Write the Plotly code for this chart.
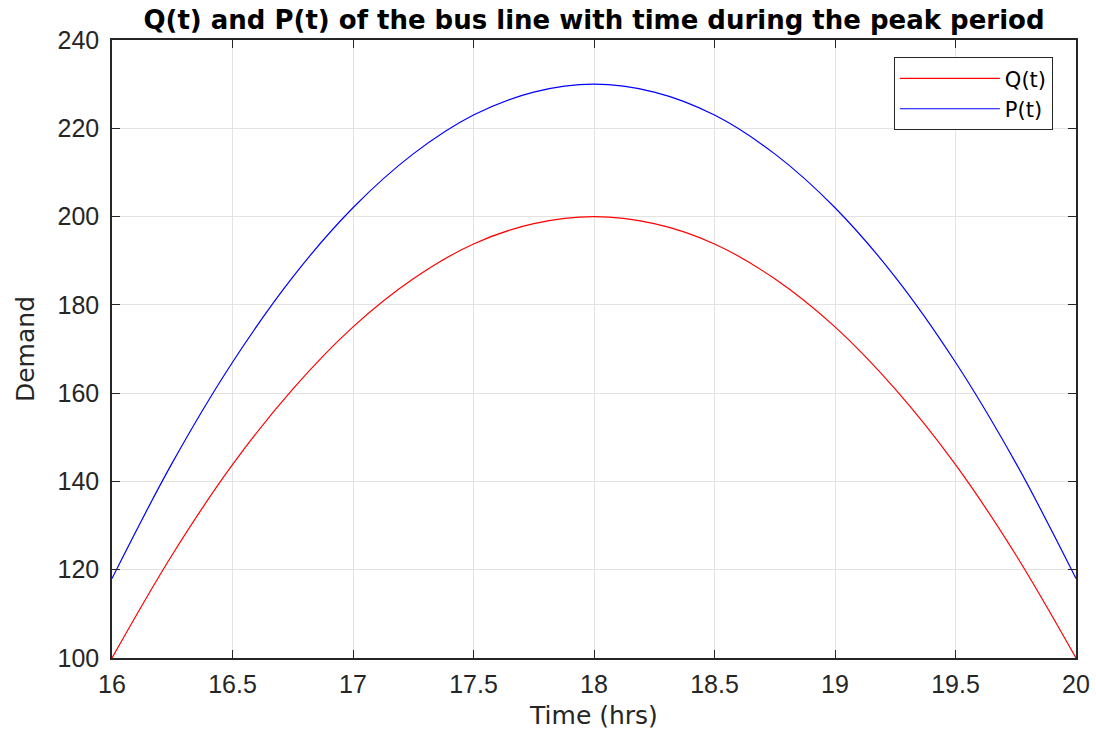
import plotly.graph_objects as go

# Time of day (hours) and demand readings over the evening peak
time_hrs = [16.0, 16.25, 16.5, 16.75, 17.0, 17.25, 17.5, 17.75, 18.0,
            18.25, 18.5, 18.75, 19.0, 19.25, 19.5, 19.75, 20.0]
q_demand = [100.0, 123.4, 143.8, 160.9, 175.0, 185.9, 193.8, 198.4, 200.0,
            198.4, 193.8, 185.9, 175.0, 160.9, 143.8, 123.4, 100.0]
p_demand = [118.0, 144.2, 167.0, 186.3, 202.0, 214.2, 223.0, 228.2, 230.0,
            228.2, 223.0, 214.2, 202.0, 186.3, 167.0, 144.2, 118.0]

x_ticks = [16, 16.5, 17, 17.5, 18, 18.5, 19, 19.5, 20]
y_ticks = [100, 120, 140, 160, 180, 200, 220, 240]

tick_family = "Liberation Sans, Arial, sans-serif"
text_family = "DejaVu Sans, Liberation Sans, sans-serif"
axis_color = "#262626"

fig = go.Figure()
fig.add_trace(go.Scatter(x=time_hrs, y=q_demand, mode="lines", name="Q(t)",
                         line=dict(color="#ff0000", width=1.2, shape="spline")))
fig.add_trace(go.Scatter(x=time_hrs, y=p_demand, mode="lines", name="P(t)",
                         line=dict(color="#0000ff", width=1.2, shape="spline")))

axis_common = dict(
    showline=True, linecolor=axis_color, linewidth=1.5, mirror="ticks",
    ticks="inside", ticklen=8, tickwidth=1.2, tickcolor=axis_color,
    showgrid=True, gridcolor="#e3e3e3", gridwidth=1,
    zeroline=False, automargin=False,
    tickfont=dict(family=tick_family, size=25, color="#262626"),
)

fig.update_layout(
    width=1096, height=734,
    margin=dict(l=112, r=20, t=40, b=76),
    paper_bgcolor="white", plot_bgcolor="white",
    font=dict(family=tick_family, color="#262626"),
    title=dict(text="<b>Q(t) and P(t) of the bus line with time during the peak period</b>",
               x=0.5, xref="paper", xanchor="center", y=1 - 20 / 734, yanchor="middle",
               font=dict(family=text_family, size=26, color="#000000")),
    xaxis=dict(range=[16, 20], tickvals=x_ticks, ticktext=[f"{v:g}" for v in x_ticks],
               ticklabelstandoff=3,
               title=dict(text="Time (hrs)", font=dict(size=25, family=text_family), standoff=10),
               **axis_common),
    yaxis=dict(range=[100, 240], tickvals=y_ticks, ticklabelstandoff=6,
               title=dict(text="Demand", font=dict(size=25, family=text_family), standoff=16),
               **axis_common),
    legend=dict(x=0.976, y=0.972, xanchor="right", yanchor="top",
                bgcolor="white", bordercolor=axis_color, borderwidth=1,
                font=dict(family=text_family, size=21, color="#000000"),
                itemwidth=100, tracegroupgap=0),
    showlegend=True,
)

fig.write_html("out.html")
